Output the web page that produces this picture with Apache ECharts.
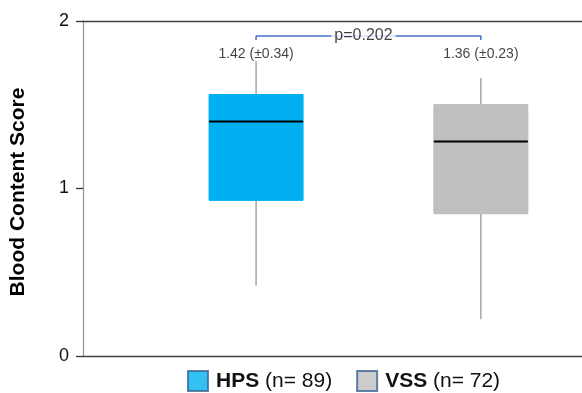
<!DOCTYPE html>
<html>
<head>
<meta charset="utf-8">
<script src="https://cdn.jsdelivr.net/npm/echarts@6/dist/echarts.min.js"></script>
<style>
html,body{margin:0;padding:0;background:#fff;}
#chart{width:582px;height:393px;}
</style>
</head>
<body>
<div id="chart"></div>
<script>
// ---- data ----
const groups = ['HPS', 'VSS'];
const groupCounts = [89, 72];
const groupX = [0, 1];
// [min, Q1, median, Q3, max]
const hpsBox = [0.42, 0.93, 1.40, 1.56, 1.76];
const vssBox = [0.22, 0.85, 1.28, 1.50, 1.66];
const means = [1.42, 1.36];
const sds = [0.34, 0.23];
const meanLabelY = 1.80;
const pValue = '0.202';
const bracketY = 1.91;
const bracketDrop = 0.024;
const yTicks = [0, 1, 2];

const fills = ['#00b0f0', '#bfbfbf'];
const boxes = [hpsBox, vssBox];
const FONT = '"Liberation Sans", Arial, Helvetica, sans-serif';

const xRange = { min: -0.77, max: 1.45 };
const boxW = [94, 94];

const whiskerData = boxes.map((b, i) => [groupX[i]].concat(b));
const fillData = boxes.map((b, i) => ({
  value: [groupX[i], b[1], b[1], b[2], b[3], b[3]],
  itemStyle: { color: fills[i], borderColor: fills[i] }
}));
const medianData = boxes.map((b, i) => [groupX[i], b[2], b[2], b[2], b[2], b[2]]);

const chart = echarts.init(document.getElementById('chart'), null, { renderer: 'canvas' });
const hiddenX = (extra) => Object.assign({
  type: 'value', min: xRange.min, max: xRange.max,
  axisLabel: { show: false }, axisTick: { show: false }, splitLine: { show: false },
  axisLine: { show: false }
}, extra || {});

chart.setOption({
  animation: false,
  backgroundColor: '#ffffff',
  textStyle: { fontFamily: FONT },
  grid: { left: 83, right: 0, top: 21, bottom: 37, containLabel: false },
  xAxis: [
    hiddenX({ position: 'bottom', axisLine: { show: true, onZero: false, lineStyle: { color: '#404040', width: 1.3 } } }),
    hiddenX({ position: 'top', axisLine: { show: true, onZero: false, lineStyle: { color: '#404040', width: 1.3 } } }),
    hiddenX({ position: 'bottom' })
  ],
  yAxis: {
    type: 'value', position: 'left', min: yTicks[0], max: yTicks[yTicks.length - 1], interval: 1,
    name: 'Blood Content Score', nameLocation: 'middle', nameGap: 54,
    nameTextStyle: { fontFamily: FONT, fontSize: 21, fontWeight: 'bold', color: '#000', padding: [0, 7, 0, 0] },
    axisLine: { show: true, onZero: false, lineStyle: { color: '#999999', width: 1.3 } },
    axisTick: { show: true, length: 7, lineStyle: { color: '#333333', width: 1.3 } },
    axisLabel: { fontFamily: FONT, fontSize: 18, color: '#111', margin: 14 },
    splitLine: { show: false }
  },
  legend: {
    left: 187, top: 370, padding: 0, itemGap: 24,
    icon: 'rect', itemWidth: 20, itemHeight: 20,
    selectedMode: false,
    data: groups.map((g, i) => ({
      name: g,
      itemStyle: { color: fills[i], borderColor: '#3e6491', borderWidth: 2 }
    })),
    formatter: (name) => '{b|' + name + '} {n|(n= ' + groupCounts[groups.indexOf(name)] + ')}',
    textStyle: {
      fontFamily: FONT, fontSize: 21, color: '#111',
      rich: {
        b: { fontFamily: FONT, fontSize: 21, fontWeight: 'bold', color: '#111', padding: [0, 0, 0, 3] },
        n: { fontFamily: FONT, fontSize: 21, color: '#111' }
      }
    }
  },
  series: [
    {
      type: 'boxplot', name: 'whiskers', xAxisIndex: 0, boxWidth: [0, 0],
      itemStyle: { color: 'rgba(0,0,0,0)', borderColor: '#a6a6a6', borderWidth: 1.5 },
      data: whiskerData, silent: true
    },
    {
      type: 'boxplot', name: 'boxes', xAxisIndex: 1, boxWidth: boxW,
      itemStyle: { borderWidth: 1 },
      data: fillData, silent: true
    },
    {
      type: 'boxplot', name: 'medians', xAxisIndex: 2, boxWidth: boxW,
      itemStyle: { color: '#000', borderColor: '#000', borderWidth: 2 },
      data: medianData, silent: true
    },
    {
      type: 'line', name: 'bracket', xAxisIndex: 0, symbol: 'none', silent: true,
      lineStyle: { color: '#4472c4', width: 1.5 },
      data: [
        [groupX[0], bracketY - bracketDrop], [groupX[0], bracketY],
        [groupX[1], bracketY], [groupX[1], bracketY - bracketDrop]
      ],
      z: 3
    },
    {
      type: 'scatter', name: 'pval', xAxisIndex: 0, symbolSize: 1, silent: true,
      itemStyle: { color: 'rgba(0,0,0,0)' },
      label: {
        show: true, position: 'inside', offset: [-5, 0],
        formatter: 'p=' + pValue, fontFamily: FONT, fontSize: 16, color: '#111',
        backgroundColor: '#fff', padding: [0, 3]
      },
      data: [[(groupX[0] + groupX[1]) / 2, bracketY]],
      z: 4
    },
    {
      type: 'scatter', name: 'means', xAxisIndex: 0, symbolSize: 1, silent: true,
      itemStyle: { color: 'rgba(0,0,0,0)' },
      label: {
        show: true, position: 'inside', fontFamily: FONT, fontSize: 14, color: '#111',
        formatter: (p) => means[p.dataIndex].toFixed(2) + ' (\u00b1' + sds[p.dataIndex].toFixed(2) + ')'
      },
      data: groupX.map((x) => [x, meanLabelY]),
      z: 4
    },
    { type: 'scatter', name: 'HPS', xAxisIndex: 0, data: [] },
    { type: 'scatter', name: 'VSS', xAxisIndex: 0, data: [] }
  ]
});
</script>
</body>
</html>
